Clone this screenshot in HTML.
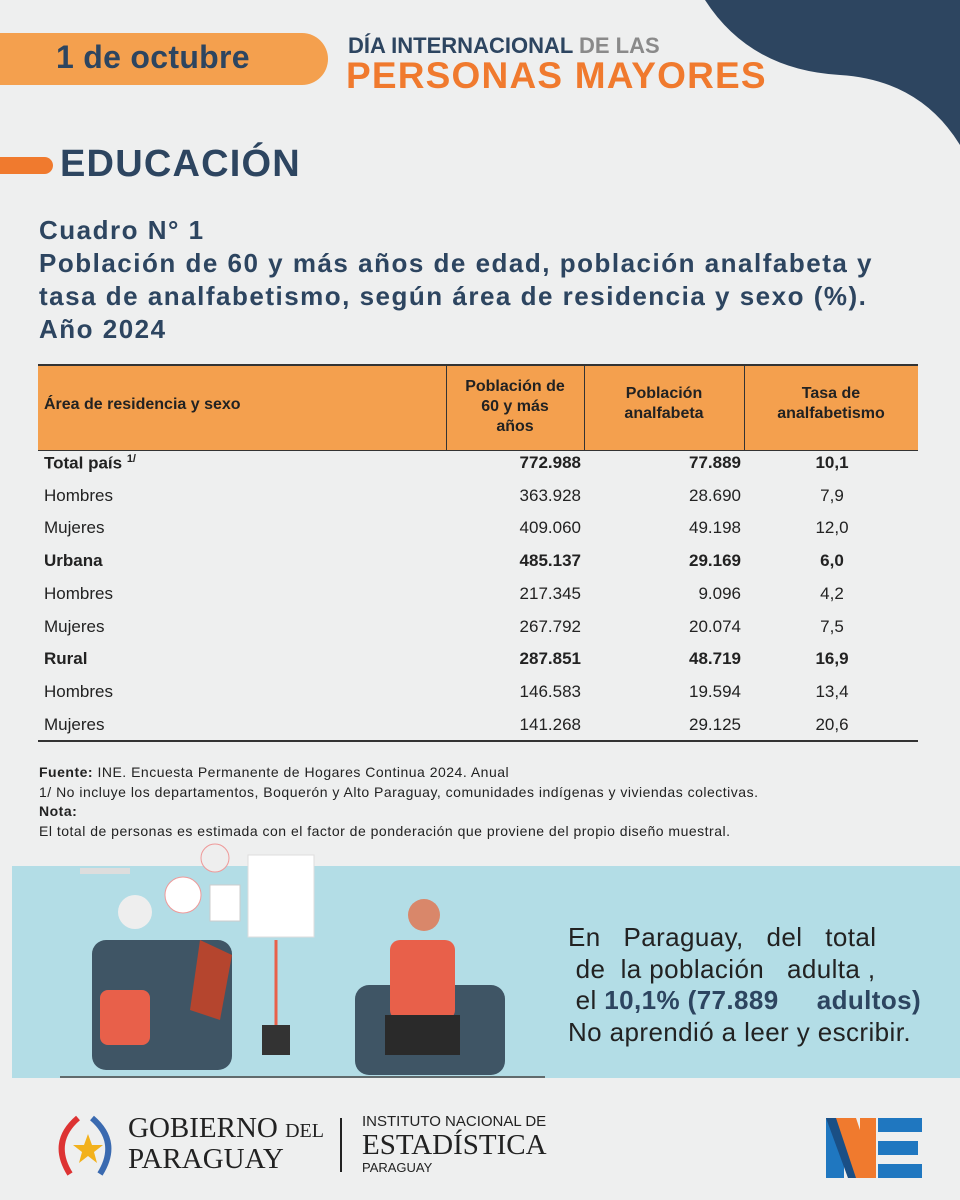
<!DOCTYPE html>
<html><head><meta charset="utf-8">
<style>
*{margin:0;padding:0;box-sizing:border-box}
body{width:960px;height:1200px;background:#eeefef;font-family:"Liberation Sans",sans-serif;position:relative;overflow:hidden;color:#2d4560}
.a{position:absolute}
</style></head><body>
<svg class="a" style="left:690px;top:0" width="270" height="150"><path d="M15 0 Q60 70 150 75 Q230 80 270 145 L270 0 Z" fill="#2d4560"/></svg>
<div class="a" style="left:0;top:33px;width:328px;height:52px;background:#f4a04e;border-radius:0 26px 26px 0"></div>
<div class="a" style="left:56px;top:39px;font-size:32px;font-weight:bold;color:#2d4560;letter-spacing:0.3px">1 de octubre</div>
<div class="a" style="left:348px;top:33px;font-size:22px;font-weight:bold;color:#2d4560">DÍA INTERNACIONAL <span style="color:#8a8a8a">DE LAS</span></div>
<div class="a" style="left:346px;top:55px;font-size:37px;font-weight:bold;color:#f07a2e;letter-spacing:1.2px">PERSONAS MAYORES</div>
<div class="a" style="left:0;top:157px;width:53px;height:17px;background:#f07a2e;border-radius:0 9px 9px 0"></div>
<div class="a" style="left:60px;top:143px;font-size:38px;font-weight:bold;color:#2d4560;letter-spacing:1.2px">EDUCACIÓN</div>
<div class="a" style="left:39px;top:214px;font-size:26px;font-weight:bold;line-height:33px;color:#2d4560;letter-spacing:1.5px;white-space:nowrap">Cuadro N° 1<br>Población de 60 y más años de edad, población analfabeta y<br>tasa de analfabetismo, según área de residencia y sexo (%).<br>Año 2024</div>

<div class="a" style="left:38px;top:364px;width:880px;height:86px;background:#f4a04e;border-top:2px solid #333"></div>
<div class="a" style="left:446px;top:366px;width:1px;height:84px;background:#333"></div>
<div class="a" style="left:584px;top:366px;width:1px;height:84px;background:#333"></div>
<div class="a" style="left:744px;top:366px;width:1px;height:84px;background:#333"></div>
<div class="a" style="left:44px;top:396px;font-size:16px;font-weight:bold;color:#222">Área de residencia y sexo</div>
<div class="a" style="left:446px;top:377px;width:138px;text-align:center;font-size:16px;font-weight:bold;color:#222;line-height:20px">Población de<br>60 y más<br>años</div>
<div class="a" style="left:584px;top:384px;width:160px;text-align:center;font-size:16px;font-weight:bold;color:#222;line-height:20px">Población<br>analfabeta</div>
<div class="a" style="left:744px;top:384px;width:174px;text-align:center;font-size:16px;font-weight:bold;color:#222;line-height:20px">Tasa de<br>analfabetismo</div>
<div class="a" style="left:38px;top:450px;width:880px;height:1px;background:#333"></div>

<div id="rows"></div>
<div class="a" style="left:38px;top:740px;width:880px;height:2px;background:#333"></div>

<div class="a" style="left:39px;top:763px;font-size:14px;line-height:19.5px;color:#222;letter-spacing:0.5px;white-space:nowrap"><b>Fuente:</b> INE. Encuesta Permanente de Hogares Continua 2024. Anual<br>1/ No incluye los departamentos, Boquerón y Alto Paraguay, comunidades indígenas y viviendas colectivas.<br><b>Nota:</b><br>El total de personas es estimada con el factor de ponderación que proviene del propio diseño muestral.</div>

<div class="a" style="left:12px;top:866px;width:948px;height:212px;background:#b3dde6"></div>
<svg class="a" style="left:0;top:840px" width="560" height="250">
<rect x="248" y="15" width="66" height="82" fill="#fff" stroke="#ddd"/>
<rect x="80" y="28" width="50" height="6" fill="#ddd"/>
<circle cx="215" cy="18" r="14" fill="#eee" stroke="#e99"/>
<circle cx="183" cy="55" r="18" fill="#fff" stroke="#e99"/>
<rect x="210" y="45" width="30" height="36" fill="#fff" stroke="#ccc"/>
<rect x="92" y="100" width="140" height="130" rx="14" fill="#3f5565"/>
<rect x="100" y="150" width="50" height="55" rx="8" fill="#e8604a"/>
<circle cx="135" cy="72" r="17" fill="#eee"/>
<path d="M200 100 L232 115 L220 180 L190 170 Z" fill="#b5452e"/>
<rect x="262" y="185" width="28" height="30" fill="#333"/>
<path d="M276 185 L276 100" stroke="#e8604a" stroke-width="3"/>
<rect x="355" y="145" width="150" height="90" rx="14" fill="#3f5565"/>
<rect x="390" y="100" width="65" height="80" rx="10" fill="#e8604a"/>
<circle cx="424" cy="75" r="16" fill="#d9876a"/>
<rect x="385" y="175" width="75" height="40" fill="#2a2a2a"/>
<line x1="60" y1="237" x2="545" y2="237" stroke="#444" stroke-width="1.5"/>
</svg>
<div class="a" style="left:568px;top:922px;font-size:26px;line-height:31.5px;color:#222;width:392px;letter-spacing:0.4px;white-space:nowrap">En&nbsp;&nbsp; Paraguay,&nbsp;&nbsp; del&nbsp;&nbsp; total<br>&nbsp;de&nbsp; la población&nbsp;&nbsp; adulta ,<br>&nbsp;el <b style="color:#2d4560">10,1% (77.889&nbsp;&nbsp;&nbsp;&nbsp; adultos)</b><br>No aprendió a leer y escribir.</div>

<svg class="a" style="left:50px;top:1112px" width="80" height="68">
<path d="M28 6 Q0 30 20 62" stroke="#d33" stroke-width="6" fill="none"/>
<path d="M42 6 Q70 30 50 62" stroke="#3a6ab0" stroke-width="6" fill="none"/>
<polygon points="38,22 42,33 53,33 44,40 47,51 38,44 29,51 32,40 23,33 34,33" fill="#f2b11c"/>
</svg>
<div class="a" style="left:128px;top:1114px;font-family:'Liberation Serif',serif;font-size:29px;line-height:28px;color:#222">GOBIERNO <span style="font-size:20px">DEL</span><br>PARAGUAY</div>
<div class="a" style="left:340px;top:1118px;width:2px;height:54px;background:#222"></div>
<div class="a" style="left:362px;top:1113px;color:#222">
<div style="font-size:15px">INSTITUTO NACIONAL DE</div>
<div style="font-family:'Liberation Serif',serif;font-size:29px;line-height:30px">ESTADÍSTICA</div>
<div style="font-size:13px">PARAGUAY</div></div>
<svg class="a" style="left:826px;top:1118px" width="100" height="62">
<rect x="0" y="0" width="18" height="60" fill="#1f77c0"/>
<polygon points="0,0 18,0 40,60 22,60" fill="#1a4f85"/>
<polygon points="10,0 30,0 50,60 30,60" fill="#f07a2e"/>
<rect x="34" y="0" width="16" height="60" fill="#f07a2e"/>
<rect x="52" y="0" width="44" height="14" fill="#1f77c0"/>
<rect x="52" y="23" width="40" height="14" fill="#1f77c0"/>
<rect x="52" y="46" width="44" height="14" fill="#1f77c0"/>
</svg>

<script>
const labels=["Total país","Hombres","Mujeres","Urbana","Hombres","Mujeres","Rural","Hombres","Mujeres"];
const population=["772.988","363.928","409.060","485.137","217.345","267.792","287.851","146.583","141.268"];
const illiterate=["77.889","28.690","49.198","29.169","9.096","20.074","48.719","19.594","29.125"];
const rates=["10,1","7,9","12,0","6,0","4,2","7,5","16,9","13,4","20,6"];
const boldRows=[0,3,6];
const host=document.getElementById('rows');
labels.forEach((lab,i)=>{
  const y=453+i*32.7;
  const b=boldRows.includes(i)?'bold':'normal';
  const mk=(txt,css,name)=>{
    const d=document.createElement('div');
    d.className='a';
    
    
    d.style.cssText='top:'+y+'px;font-size:17px;color:#222;white-space:nowrap;font-weight:'+b+';'+css;
    d.innerHTML=txt;host.appendChild(d);
  };
  mk(lab+(i===0?' <sup style="font-size:11px">1/</sup>':''),'left:44px;','row-label');
  mk(population[i],'left:446px;width:135px;text-align:right;','row-population');
  mk(illiterate[i],'left:584px;width:157px;text-align:right;','row-illiterate');
  mk(rates[i],'left:744px;width:176px;text-align:center;','row-rate');
});
</script>
</body></html>
